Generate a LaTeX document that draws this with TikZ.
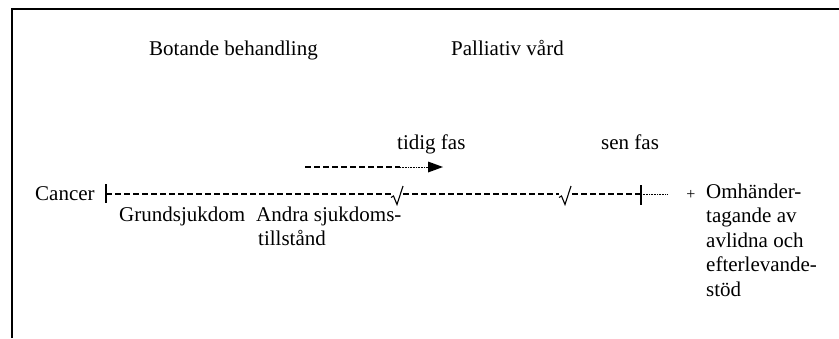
\documentclass[tikz,border=0pt]{standalone}
\usepackage{fontspec}
\setmainfont{Liberation Serif}
\begin{document}
\begin{tikzpicture}[x=1pt,y=-1pt,
  lbl/.style={anchor=base west,inner sep=0pt,font=\fontsize{21}{24.5}\selectfont},
  dashline/.style={line width=1.1pt,dash pattern=on 6pt off 3pt},
  dotline/.style={line width=0.7pt,dash pattern=on 0.8pt off 0.8pt},
  tickline/.style={line width=1.3pt},
  surdline/.style={line width=1.1pt,line join=miter},
  frameline/.style={line width=1.4pt}]
\useasboundingbox (0,0) rectangle (839,338);
% frame
\coordinate (fb) at (12,338);
\coordinate (fc) at (12,9);
\coordinate (fr) at (839,9);
\draw[frameline] (fb) -- (fc) -- (fr);
% headings
\node[lbl] (bot) at (149,55) {Botande behandling};
\node[lbl] (pal) at (451,55) {Palliativ vård};
\node[lbl] (tid) at (397,149) {tidig fas};
\node[lbl] (sen) at (601,149) {sen fas};
% arrow
\coordinate (a0) at (305,167);
\coordinate (a1) at (400,167);
\coordinate (a2) at (428,167);
\draw[dashline] (a0) -- (a1);
\draw[dotline] (a1) -- (a2);
\fill (a2) ++(0,-5.5) -- ++(15,5.5) -- ++(-15,5.5) -- cycle;
% main line
\node[lbl] (can) at (35,200) {Cancer};
\coordinate (t0) at (106,194);
\coordinate (t0a) at (106,184);
\coordinate (t0b) at (106,203);
\draw[tickline] (t0a) -- (t0b);
\coordinate (s1a) at (391,194);
\coordinate (s1b) at (403,194);
\coordinate (s2a) at (559,194);
\coordinate (s2b) at (572,194);
\coordinate (t1) at (641,194);
\coordinate (t1a) at (641,185);
\coordinate (t1b) at (641,205);
\coordinate (t2) at (668,194);
\draw[dashline] (t0) -- (s1a);
\draw[dashline] (s1b) -- (s2a);
\draw[dashline] (s2b) -- (t1);
\draw[dotline] (t1) -- (t2);
\draw[tickline] (t1a) -- (t1b);
% surd marks
\draw[surdline] (391,197.5) -- (393.5,196) -- (397,204.5) -- (403,186);
\draw[surdline] (559,197.5) -- (561.5,196) -- (565,204.5) -- (571,186);
% plus
\node[anchor=center,inner sep=0pt,font=\fontsize{16}{18}\selectfont] (plus) at (691,195) {+};
% labels under line
\node[lbl] (gru) at (119,221) {Grundsjukdom};
\node[lbl] (and1) at (256,221) {Andra sjukdoms-};
\node[lbl] (and2) at (258,245.5) {tillstånd};
% right column
\node[lbl] (om1) at (706,198) {Omhänder-};
\node[lbl] (om2) at (706,222.5) {tagande av};
\node[lbl] (om3) at (706,247) {avlidna och};
\node[lbl] (om4) at (706,271.5) {efterlevande-};
\node[lbl] (om5) at (706,296) {stöd};
\end{tikzpicture}
\end{document}
